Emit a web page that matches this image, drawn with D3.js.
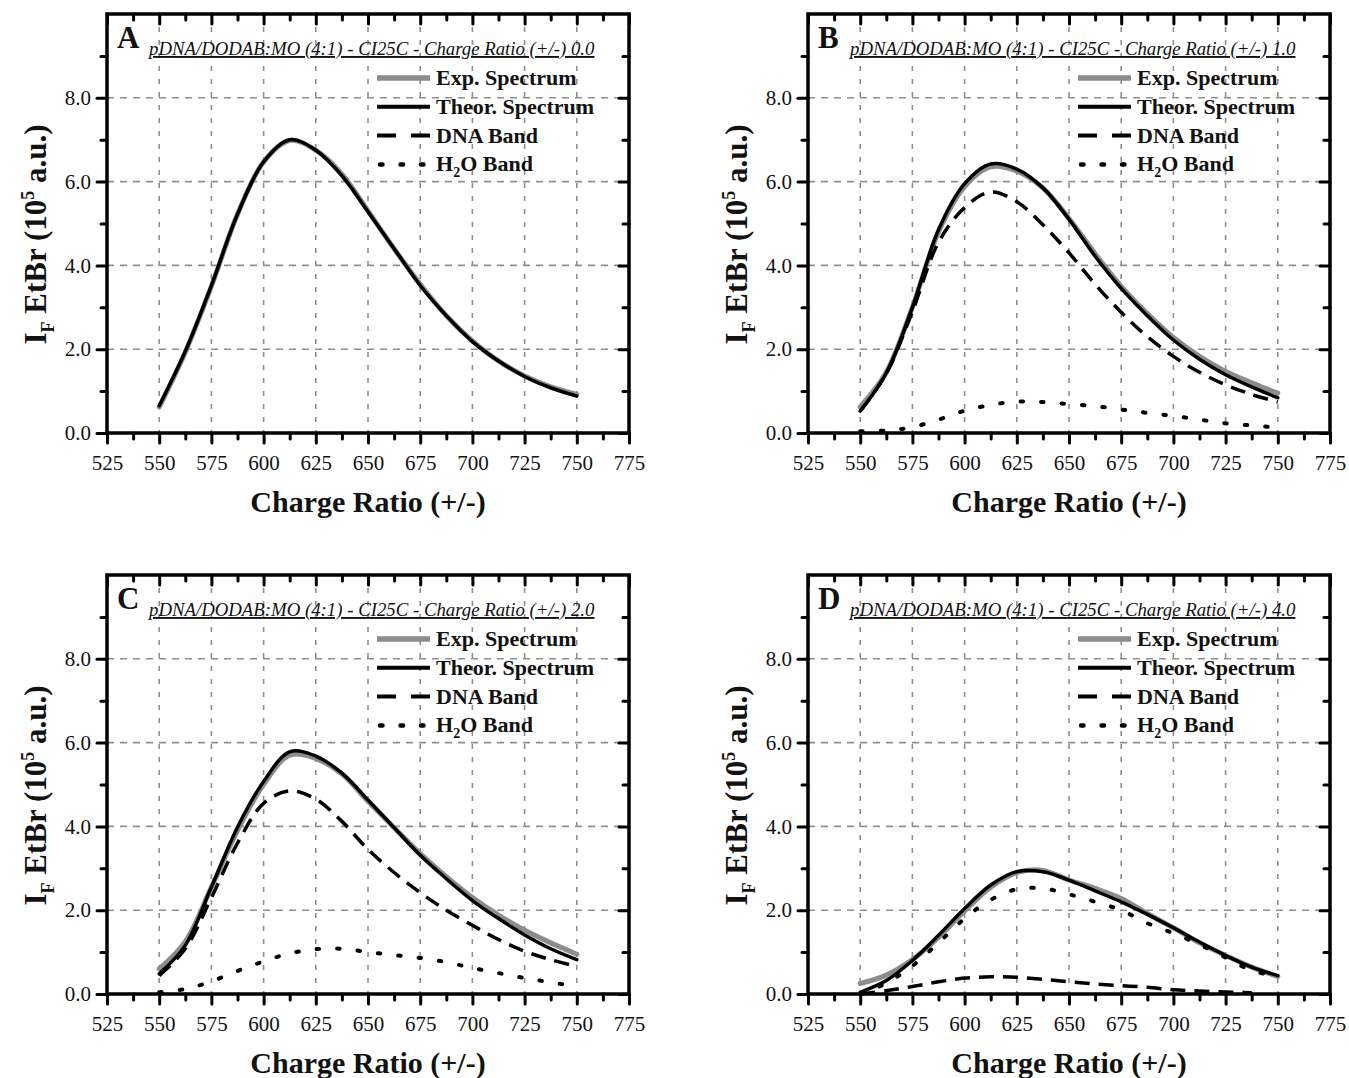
<!DOCTYPE html>
<html>
<head>
<meta charset="utf-8">
<script src="https://cdn.jsdelivr.net/npm/d3@7"></script>
<style>
  body { margin: 0; background: #fff; }
  svg { display: block; }
  text { font-family: "Liberation Serif", "Times New Roman", serif; fill: #111; }
</style>
</head>
<body>
<svg id="chart" width="1349" height="1078"></svg>
<script>
// ---------------- data ----------------
const wavelengths = [550, 562.5, 575, 587.5, 600, 612.5, 625, 637.5, 650, 662.5, 675, 687.5, 700, 712.5, 725, 737.5, 750];

const panelLetters = ["A", "B", "C", "D"];
const chargeRatios = ["0.0", "1.0", "2.0", "4.0"];

const expA   = [0.62, 1.93, 3.50, 5.22, 6.47, 6.98, 6.75, 6.18, 5.30, 4.40, 3.55, 2.80, 2.20, 1.72, 1.36, 1.10, 0.92];
const theorA = [0.65, 1.95, 3.52, 5.22, 6.47, 7.00, 6.75, 6.14, 5.28, 4.40, 3.52, 2.80, 2.18, 1.72, 1.35, 1.08, 0.88];

const expB   = [0.62, 1.45, 3.00, 4.80, 5.88, 6.35, 6.25, 5.85, 5.12, 4.28, 3.50, 2.85, 2.28, 1.83, 1.47, 1.20, 0.95];
const theorB = [0.52, 1.43, 3.00, 4.85, 5.95, 6.42, 6.30, 5.85, 5.10, 4.22, 3.45, 2.80, 2.22, 1.76, 1.39, 1.10, 0.84];
const dnaB   = [0.52, 1.42, 2.90, 4.55, 5.38, 5.75, 5.52, 4.97, 4.30, 3.55, 2.88, 2.30, 1.83, 1.45, 1.15, 0.92, 0.74];
const h2oB   = [0.04, 0.06, 0.14, 0.32, 0.53, 0.67, 0.75, 0.74, 0.69, 0.64, 0.56, 0.48, 0.41, 0.32, 0.23, 0.18, 0.13];

const expC   = [0.60, 1.25, 2.55, 3.90, 5.00, 5.70, 5.62, 5.25, 4.60, 3.97, 3.35, 2.80, 2.30, 1.88, 1.52, 1.22, 0.95];
const theorC = [0.48, 1.16, 2.55, 3.98, 5.07, 5.78, 5.68, 5.27, 4.63, 3.97, 3.31, 2.75, 2.23, 1.80, 1.41, 1.08, 0.82];
const dnaC   = [0.44, 1.08, 2.30, 3.60, 4.55, 4.85, 4.65, 4.12, 3.45, 2.90, 2.42, 2.00, 1.64, 1.30, 1.02, 0.82, 0.66];
const h2oC   = [0.04, 0.12, 0.30, 0.55, 0.78, 0.97, 1.07, 1.08, 1.00, 0.93, 0.86, 0.76, 0.62, 0.50, 0.38, 0.28, 0.18];

const expD   = [0.25, 0.45, 0.82, 1.35, 1.98, 2.55, 2.90, 2.95, 2.72, 2.52, 2.28, 1.92, 1.58, 1.22, 0.92, 0.64, 0.42];
const theorD = [0.04, 0.32, 0.80, 1.40, 2.04, 2.60, 2.92, 2.92, 2.72, 2.46, 2.20, 1.90, 1.58, 1.24, 0.92, 0.64, 0.44];
const dnaD   = [0.00, 0.08, 0.18, 0.29, 0.38, 0.41, 0.40, 0.35, 0.29, 0.24, 0.20, 0.16, 0.10, 0.07, 0.05, 0.03, null];
const h2oD   = [0.00, 0.26, 0.67, 1.22, 1.80, 2.25, 2.50, 2.52, 2.38, 2.20, 2.00, 1.69, 1.45, 1.18, 0.87, 0.56, 0.42];

const xTicksMajor = [525, 550, 575, 600, 625, 650, 675, 700, 725, 750, 775];
const xTicksMinor = [537.5, 562.5, 587.5, 612.5, 637.5, 662.5, 687.5, 712.5, 737.5, 762.5];
const xGrid = [550, 575, 600, 625, 650, 675, 700, 725, 750];
const yTicksMajor = [0, 2, 4, 6, 8];
const yTicksMinor = [1, 3, 5, 7, 9];
const yGrid = [2, 4, 6, 8];
const legendLabels = ["Exp. Spectrum", "Theor. Spectrum", "DNA Band", "H2O Band"];

const panels = [
  { exp: expA, theor: theorA, dna: null, h2o: null },
  { exp: expB, theor: theorB, dna: dnaB, h2o: h2oB },
  { exp: expC, theor: theorC, dna: dnaC, h2o: h2oC },
  { exp: expD, theor: theorD, dna: dnaD, h2o: h2oD }
];

// ---------------- layout ----------------
const frames = [
  { x: 107, y: 14 }, { x: 808, y: 14 },
  { x: 107, y: 575 }, { x: 808, y: 575 }
];
const W = 522, H = 419;

const svg = d3.select("#chart");

const styles = {
  exp:   { stroke: "#8c8c8c", width: 5, dash: null, cap: "round" },
  theor: { stroke: "#000", width: 3.5, dash: null, cap: "round" },
  dna:   { stroke: "#000", width: 3.5, dash: "15,9", cap: "butt" },
  h2o:   { stroke: "#000", width: 4, dash: "2.5,18", cap: "round" }
};

panels.forEach((p, i) => {
  const f = frames[i];
  const g = svg.append("g").attr("transform", `translate(${f.x},${f.y})`);
  const x = d3.scaleLinear().domain([525, 775]).range([0, W]);
  const y = d3.scaleLinear().domain([0, 10]).range([H, 0]);

  // grid
  g.append("g").selectAll("line").data(xGrid).join("line")
    .attr("x1", d => x(d)).attr("x2", d => x(d)).attr("y1", 0).attr("y2", H)
    .attr("stroke", "#8f8f8f").attr("stroke-width", 1.6).attr("stroke-dasharray", "5,8");
  g.append("g").selectAll("line").data(yGrid).join("line")
    .attr("y1", d => y(d)).attr("y2", d => y(d)).attr("x1", 0).attr("x2", W)
    .attr("stroke", "#8f8f8f").attr("stroke-width", 1.6).attr("stroke-dasharray", "7,6");

  // curves
  const line = d3.line()
    .defined(d => d[1] != null)
    .x(d => x(d[0])).y(d => y(d[1]))
    .curve(d3.curveCatmullRom.alpha(0.5));
  ["exp", "theor", "dna", "h2o"].forEach(k => {
    if (!p[k]) return;
    const st = styles[k];
    g.append("path")
      .datum(wavelengths.map((w, j) => [w, p[k][j]]))
      .attr("d", line)
      .attr("fill", "none")
      .attr("stroke", st.stroke)
      .attr("stroke-width", st.width)
      .attr("stroke-linecap", st.cap)
      .attr("stroke-linejoin", "round")
      .attr("stroke-dasharray", st.dash);
  });

  // axes
  function styleAxis(sel) {
    sel.select(".domain").remove();
    sel.selectAll(".tick line").attr("stroke", "#000").attr("stroke-width", 3).attr("stroke-linecap", "round");
    sel.selectAll(".tick text").style("font-family", '"Liberation Serif","Times New Roman",serif')
      .style("font-size", "21px").attr("fill", "#111");
  }
  g.append("g").attr("transform", `translate(0,${H})`)
    .call(d3.axisBottom(x).tickValues(xTicksMajor).tickSize(10).tickPadding(12).tickFormat(d3.format("d")))
    .call(styleAxis);
  g.append("g").attr("transform", `translate(0,${H})`)
    .call(d3.axisBottom(x).tickValues(xTicksMinor).tickSize(6).tickFormat(""))
    .call(styleAxis);
  g.append("g")
    .call(d3.axisLeft(y).tickValues(yTicksMajor).tickSize(10).tickPadding(6).tickFormat(d3.format(".1f")))
    .call(styleAxis);
  g.append("g")
    .call(d3.axisLeft(y).tickValues(yTicksMinor).tickSize(6).tickFormat(""))
    .call(styleAxis);
  // inward ticks on top / right
  g.append("g")
    .call(d3.axisTop(x).tickValues(xTicksMajor).tickSize(-10).tickFormat(""))
    .call(styleAxis);
  g.append("g")
    .call(d3.axisTop(x).tickValues(xTicksMinor).tickSize(-6).tickFormat(""))
    .call(styleAxis);
  g.append("g").attr("transform", `translate(${W},0)`)
    .call(d3.axisRight(y).tickValues(yTicksMajor).tickSize(-10).tickFormat(""))
    .call(styleAxis);
  g.append("g").attr("transform", `translate(${W},0)`)
    .call(d3.axisRight(y).tickValues(yTicksMinor).tickSize(-6).tickFormat(""))
    .call(styleAxis);

  // frame
  g.append("rect").attr("x", 0).attr("y", 0).attr("width", W).attr("height", H)
    .attr("fill", "none").attr("stroke", "#000").attr("stroke-width", 3.5);

  // panel letter + title
  g.append("text").attr("x", 10).attr("y", 34)
    .style("font-size", "31px").style("font-weight", "bold").text(panelLetters[i]);
  g.append("text").attr("x", 42).attr("y", 41)
    .style("font-size", "18.8px").style("font-style", "italic")
    .style("text-decoration", "underline")
    .text(`pDNA/DODAB:MO (4:1) - CI25C - Charge Ratio (+/-) ${chargeRatios[i]}`);

  // legend
  const lg = g.append("g").attr("transform", "translate(270,64)");
  const legendKeys = ["exp", "theor", "dna", "h2o"];
  const legendDash = [null, null, "19,15", "2.5,18"];
  legendKeys.forEach((k, j) => {
    const st = styles[k];
    const yy = j * 28.8;
    lg.append("line").attr("x1", k === "h2o" ? 3 : 0).attr("x2", 53).attr("y1", yy).attr("y2", yy)
      .attr("stroke", st.stroke).attr("stroke-width", k === "h2o" ? 4.5 : (k === "exp" ? 5.5 : 4))
      .attr("stroke-linecap", k === "h2o" ? "round" : "butt")
      .attr("stroke-dasharray", legendDash[j]);
    const t = lg.append("text").attr("x", 59).attr("y", yy + 7)
      .style("font-size", "22px").style("font-weight", "bold");
    if (k === "h2o") {
      t.append("tspan").text("H");
      t.append("tspan").attr("dy", 6).style("font-size", "14px").text("2");
      t.append("tspan").attr("dy", -6).text("O Band");
    } else {
      t.text(legendLabels[j]);
    }
  });

  // axis titles
  g.append("text").attr("x", W / 2).attr("y", H + 79).attr("text-anchor", "middle")
    .style("font-size", "30px").style("font-weight", "bold").text("Charge Ratio (+/-)");
  const yt = g.append("text")
    .attr("transform", `translate(${-61},${H / 2 + 11}) rotate(-90)`)
    .attr("text-anchor", "middle")
    .style("font-size", "31px").style("font-weight", "bold");
  yt.append("tspan").text("I");
  yt.append("tspan").attr("dy", 8).style("font-size", "18px").text("F");
  yt.append("tspan").attr("dy", -8).text(" EtBr (10");
  yt.append("tspan").attr("dy", -12).style("font-size", "18px").text("5");
  yt.append("tspan").attr("dy", 12).text(" a.u.)");
});
</script>
</body>
</html>
